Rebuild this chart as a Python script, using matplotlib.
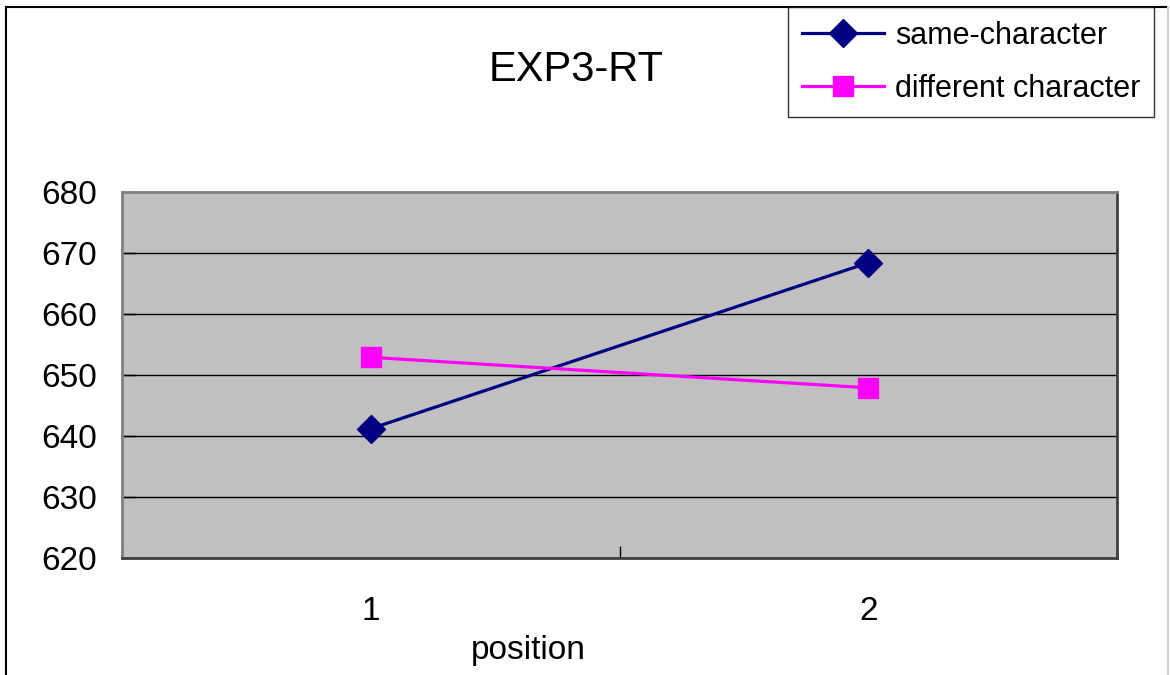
import matplotlib.pyplot as plt
from matplotlib.lines import Line2D
import numpy as np

plt.rcParams['font.family'] = ['Liberation Sans', 'DejaVu Sans']

positions = [1, 2]
same_char = [641.2, 668.4]
diff_char = [652.9, 647.9]
y_ticks = [620, 630, 640, 650, 660, 670, 680]

W, H = 1170, 675
fig = plt.figure(figsize=(W / 100, H / 100), dpi=100)
ax = fig.add_axes([122 / W, 1 - 558 / H, (1117 - 122) / W, (558 - 192) / H])

ax.set_facecolor('#c0c0c0')
ax.set_xlim(0.5, 2.5)
ax.set_ylim(620, 680)

# horizontal gridlines like the spreadsheet default
for v in y_ticks[1:-1]:
    ax.axhline(v, color='black', lw=1, zorder=1)

ax.plot(positions, same_char, color='#000080', lw=2.3, marker='D', markersize=14,
        label='same-character', zorder=3)
ax.plot(positions, diff_char, color='#ff00ff', lw=2.3, marker='s', markersize=14,
        label='different character', zorder=3)

ax.set_yticks(y_ticks)
ax.set_yticklabels([str(v) for v in y_ticks], fontsize=24)
ax.set_xticks(positions)
ax.set_xticklabels([str(p) for p in positions], fontsize=24)
ax.set_xticks([0.5, 1.5, 2.5], minor=True)
ax.tick_params(axis='x', which='major', length=0, pad=27)
ax.tick_params(axis='x', which='minor', direction='in', length=9, width=1, color='black')
ax.tick_params(axis='y', direction='in', length=9, width=1, pad=18, color='black')

for side in ['top', 'left']:
    ax.spines[side].set_color('#808080')
    ax.spines[side].set_linewidth(2)
for side in ['bottom', 'right']:
    ax.spines[side].set_color('#404040')
    ax.spines[side].set_linewidth(2)

fig.text(576 / W, 1 - 70 / H, 'EXP3-RT', fontsize=30, ha='center', va='center')
fig.text(528 / W, 1 - 650 / H, 'position', fontsize=24, ha='center', va='center')

leg = fig.legend(loc='upper left', bbox_to_anchor=(788 / W, 1 - 7 / H),
                 fontsize=22, frameon=True, fancybox=False, handlelength=2.7,
                 handletextpad=0.35, borderpad=0.45, labelspacing=0.75,
                 borderaxespad=0)
leg.get_frame().set_edgecolor('black')
leg.get_frame().set_linewidth(1)

# outer chart border
fig.add_artist(Line2D([6 / W, 6 / W], [0, 1 - 7 / H], transform=fig.transFigure,
                      color='black', lw=1.5))
fig.add_artist(Line2D([6 / W, 1168 / W], [1 - 7 / H, 1 - 7 / H], transform=fig.transFigure,
                      color='black', lw=1.5))
fig.add_artist(Line2D([1168 / W, 1168 / W], [0, 1 - 7 / H], transform=fig.transFigure,
                      color='#d0d0d0', lw=1.5))

fig.savefig('out.png', dpi=100)
